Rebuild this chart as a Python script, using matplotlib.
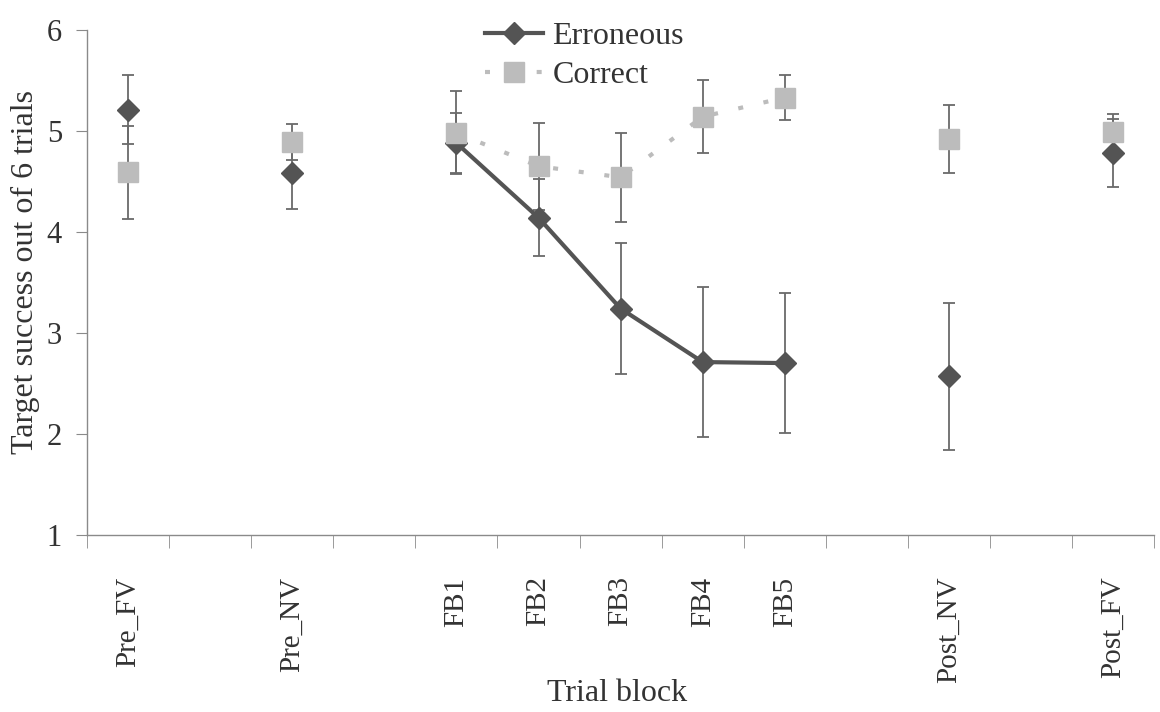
import numpy as np
import matplotlib
matplotlib.use('Agg')
import matplotlib.pyplot as plt

# Trial blocks (empty slots are the gaps between phases)
blocks = ['Pre_FV', '', 'Pre_NV', '', 'FB1', 'FB2', 'FB3', 'FB4', 'FB5',
          '', 'Post_NV', '', 'Post_FV']
pos_pre = [0, 2]
pos_fb = [4, 5, 6, 7, 8]
pos_post = [10, 12]

# Erroneous feedback group: means and standard errors
err_pre = [5.21, 4.58]
err_fb = [4.88, 4.14, 3.24, 2.71, 2.70]
err_post = [2.57, 4.78]
err_pre_se = [0.34, 0.35]
err_fb_se = [0.30, 0.38, 0.65, 0.74, 0.69]
err_post_se = [0.73, 0.34]

# Correct feedback group
cor_pre = [4.59, 4.89]
cor_fb = [4.98, 4.65, 4.54, 5.14, 5.33]
cor_post = [4.92, 4.99]
cor_pre_se = [0.46, 0.18]
cor_fb_se = [0.41, 0.43, 0.44, 0.36, 0.22]
cor_post_se = [0.34, 0.18]

plt.rcParams['font.family'] = ['Liberation Serif', 'DejaVu Serif']

dark = '#545454'
light = '#bcbcbc'
bar_col = '#6a6a6a'
axis_col = '#8a8a8a'

fig = plt.figure(figsize=(11.6, 7.12), dpi=100)
ax = fig.add_axes([0.075, 0.249, 0.92, 0.709])

x_all = pos_pre + pos_fb + pos_post
e_all = err_pre + err_fb + err_post
e_se = err_pre_se + err_fb_se + err_post_se
c_all = cor_pre + cor_fb + cor_post
c_se = cor_pre_se + cor_fb_se + cor_post_se

# error bars first
ax.errorbar(x_all, e_all, yerr=e_se, fmt='none', ecolor=bar_col,
            elinewidth=1.3, capsize=4, capthick=1.3, zorder=2)
ax.errorbar(x_all, c_all, yerr=c_se, fmt='none', ecolor=bar_col,
            elinewidth=1.3, capsize=4, capthick=1.3, zorder=2)

# lines only across the feedback blocks
ax.plot(pos_fb, err_fb, '-', color=dark, lw=3, zorder=3)
ax.plot(pos_fb, cor_fb, linestyle=(0, (1.2, 5)), color=light, lw=3, zorder=3)

ax.plot(x_all, e_all, 'D', color=dark, ms=11, mec=dark, zorder=4)
ax.plot(x_all, c_all, 's', color=light, ms=14, mec=light, zorder=5)

ax.set_xlim(-0.5, 12.5)
ax.set_ylim(1, 6)
ax.set_yticks([1, 2, 3, 4, 5, 6])

ax.set_xticks(range(len(blocks)))
ax.set_xticklabels(blocks, rotation=90)
ax.set_xticks(np.arange(-0.5, 13, 1), minor=True)
ax.tick_params(axis='x', which='major', length=0, pad=30, labelsize=21,
               labelcolor='#333333')
ax.tick_params(axis='x', which='minor', length=9, color=axis_col, direction='out')
ax.tick_params(axis='y', length=8, color=axis_col, labelsize=22,
               labelcolor='#333333', pad=10)

for s in ['top', 'right']:
    ax.spines[s].set_visible(False)
for s in ['left', 'bottom']:
    ax.spines[s].set_color(axis_col)
    ax.spines[s].set_linewidth(1)

ax.set_xlabel('Trial block', fontsize=23, color='#333333')
ax.xaxis.set_label_coords(0.497, -0.285)
ax.set_ylabel('Target success out of 6 trials', fontsize=23, color='#333333')
ax.yaxis.set_label_coords(-0.044, 0.52)

# legend
h1, = ax.plot([], [], '-D', color=dark, lw=3, ms=11)
h2, = ax.plot([], [], linestyle=(0, (1.2, 5)), marker='s', color=light,
              lw=3, ms=14)
fig.legend([h1, h2], ['Erroneous', 'Correct'], loc='upper center',
           bbox_to_anchor=(0.504, 1.01), frameon=False, fontsize=23,
           handlelength=1.8, handletextpad=0.3, labelspacing=0.3,
           labelcolor='#333333')

fig.savefig('out.png', dpi=100)
